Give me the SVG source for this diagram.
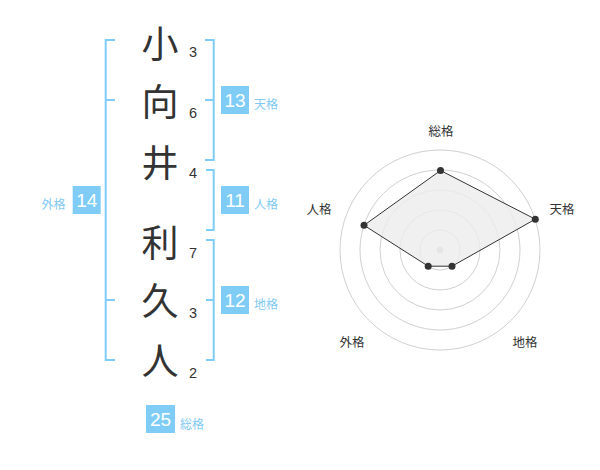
<svg xmlns="http://www.w3.org/2000/svg" width="600" height="470" viewBox="0 0 600 470">
<style>
.br{fill:none;stroke:#7fcdf7;stroke-width:2}
.box{fill:#7fcdf7}
.bn{font-family:"Liberation Sans",Arial,sans-serif;font-size:19px;fill:#fff;text-anchor:middle;dominant-baseline:central}
.bl{font-family:"Noto Sans CJK JP",sans-serif;font-size:12px;fill:#7fc9f2;dominant-baseline:central}
.ch{font-family:"Noto Sans CJK JP",sans-serif;font-size:37px;fill:#333;text-anchor:middle;dominant-baseline:central}
.num{font-family:"Liberation Sans",Arial,sans-serif;font-size:14.5px;fill:#333;text-anchor:middle}
.ring{fill:none;stroke:#d0d0d0;stroke-width:1}
.ax{font-family:"Noto Sans CJK JP",sans-serif;font-size:12.5px;fill:#333;text-anchor:middle;dominant-baseline:central}
.pt{fill:#333}
</style>
<rect width="600" height="470" fill="#fff"/>
<g id="connectors">
<path class="br" d="M115,40 H105.7 V360 H115 M105.7,100 H115 M105.7,300 H115"/>
<path class="br" d="M205,40 H213.7 V160 H205 M205,100 H213.7"/>
<path class="br" d="M206,170 H213.7 V230 H206"/>
<path class="br" d="M206,240 H213.7 V360 H206 M206,300 H213.7"/>
</g>
<g id="chars">
<text class="ch" x="160" y="42">小</text>
<text class="ch" x="160" y="100">向</text>
<text class="ch" x="160" y="161">井</text>
<text class="ch" x="160" y="241">利</text>
<text class="ch" x="160" y="299">久</text>
<text class="ch" x="160" y="359">人</text>
<text class="num" x="193" y="57">3</text>
<text class="num" x="193" y="118">6</text>
<text class="num" x="193" y="178">4</text>
<text class="num" x="193" y="258">7</text>
<text class="num" x="193" y="318">3</text>
<text class="num" x="193" y="378">2</text>
</g>
<g id="tenkaku">
<rect class="box" x="221" y="86" width="28" height="28"/>
<text class="bn" x="235" y="100.5">13</text>
<text class="bl" x="254" y="103">天格</text>
</g>
<g id="jinkaku">
<rect class="box" x="221" y="186" width="28" height="28"/>
<text class="bn" x="235" y="200.5">11</text>
<text class="bl" x="254" y="203">人格</text>
</g>
<g id="chikaku">
<rect class="box" x="221" y="286" width="28" height="28"/>
<text class="bn" x="235" y="300.5">12</text>
<text class="bl" x="254" y="303">地格</text>
</g>
<g id="gaikaku">
<rect class="box" x="72.7" y="186" width="28" height="28"/>
<text class="bn" x="86.7" y="200.5">14</text>
<text class="bl" x="41.5" y="203">外格</text>
</g>
<g id="soukaku">
<rect class="box" x="146" y="405" width="29" height="28"/>
<text class="bn" x="160.5" y="419.5">25</text>
<text class="bl" x="180" y="423">総格</text>
</g>
<g id="radar">
<circle class="ring" cx="440" cy="250" r="20"/>
<circle class="ring" cx="440" cy="250" r="40"/>
<circle class="ring" cx="440" cy="250" r="60"/>
<circle class="ring" cx="440" cy="250" r="80"/>
<circle class="ring" cx="440" cy="250" r="100"/>
<circle cx="440" cy="250" r="3.3" fill="#c8c8c8"/>
<polygon points="440.5,170.5 535.3,219.2 452,266.2 428.2,266.2 364,225.3" fill="#ececec" fill-opacity="0.8" stroke="#333" stroke-width="1"/>
<circle class="pt" cx="440.5" cy="170.5" r="3.5"/>
<circle class="pt" cx="535.3" cy="219.2" r="3.5"/>
<circle class="pt" cx="452" cy="266.2" r="3.5"/>
<circle class="pt" cx="428.2" cy="266.2" r="3.5"/>
<circle class="pt" cx="364" cy="225.3" r="3.5"/>
<text class="ax" x="441" y="130">総格</text>
<text class="ax" x="562" y="208">天格</text>
<text class="ax" x="525" y="341">地格</text>
<text class="ax" x="352" y="341">外格</text>
<text class="ax" x="319" y="208">人格</text>
</g>
</svg>
